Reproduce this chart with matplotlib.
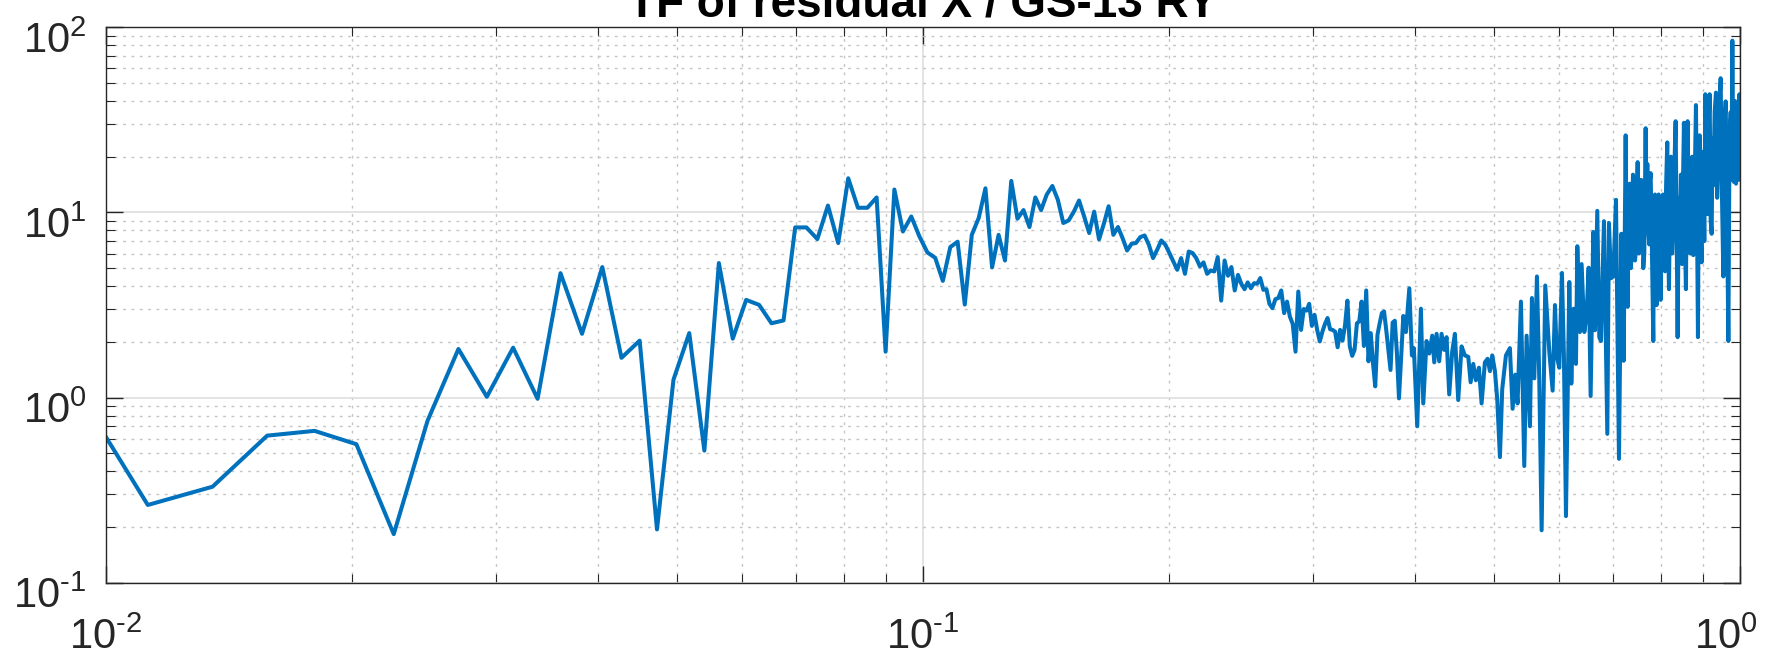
"""Transfer function of residual X over GS-13 RY, log-log magnitude plot."""

import matplotlib.pyplot as plt
import matplotlib.transforms as mtransforms
import numpy as np
from matplotlib.ticker import FuncFormatter

plt.rcParams["font.family"] = ["Liberation Sans", "DejaVu Sans"]
plt.rcParams["mathtext.fontset"] = "custom"
plt.rcParams["mathtext.rm"] = "Liberation Sans"
plt.rcParams["mathtext.it"] = "Liberation Sans:italic"
plt.rcParams["font.size"] = 30

TITLE = "TF of residual X / GS-13 RY"
LINE_COLOR = "#0072BD"

# frequency resolution of the low-frequency part (bins 4 .. 170)
DF = 0.00225
K_START = 4

# |TF| on the regular bins
low_mag = [
    1.30, 0.263, 0.330, 0.623, 0.661, 0.56, 0.183, 0.75, 1.83, 1.01,
    1.86, 0.985, 4.70, 2.21, 5.07, 1.64, 2.03, 0.194, 1.25, 2.23,
    0.517, 5.33, 2.08, 3.37, 3.17, 2.52, 2.61, 8.30, 8.30, 7.18,
    10.9, 6.83, 15.3, 10.6, 10.6, 12.05, 1.77, 13.3, 7.89, 9.51,
    7.42, 6.08, 5.69, 4.27, 6.50, 6.95, 3.18, 7.57, 9.33, 13.5,
    5.05, 7.57, 5.5, 14.8, 9.25, 10.3, 8.34, 12.05, 10.3, 12.5,
    13.9, 11.7, 8.77, 9.05, 10.1, 11.6, 9.51, 7.74, 10.1, 7.15,
    8.69, 10.8, 7.57, 8.34, 7.27, 6.23, 6.77, 6.84, 7.36, 7.51,
    6.69, 5.67, 6.29, 7.06, 6.69, 6.04, 5.43, 4.90, 5.67, 4.66,
    6.15, 6.04, 5.67, 5.11, 5.37, 4.66, 4.86, 4.80, 5.74, 3.34,
    5.50, 4.55, 5.07, 3.79, 4.60, 4.12, 3.85, 4.19, 3.90, 4.15,
    4.12, 4.42, 3.82, 3.85, 3.21, 3.04, 3.40, 3.45, 3.79, 2.86,
    3.30, 2.74, 2.50, 1.77, 3.74, 2.32, 3.01, 2.95, 3.21, 2.44,
    2.80, 2.32, 2.01, 2.27, 2.50, 2.69, 2.34, 2.32, 2.27, 1.87,
    2.32, 2.03, 2.44, 3.34, 1.89, 1.68, 1.81, 2.52, 2.58, 3.30,
    1.90, 3.79, 1.57, 2.23, 1.53, 1.15, 2.18, 2.52, 2.86, 2.92,
    2.32, 1.81, 1.41, 2.54, 2.60, 1.75, 0.99,
]

# upper band, 0.39 .. 1 Hz
high_freq = [
    0.3872, 0.3901, 0.3938, 0.3967, 0.3989, 0.4027, 0.4069, 0.4096, 0.4134, 0.4166,
    0.4201, 0.4225, 0.4253, 0.4284, 0.4313, 0.4345, 0.4374, 0.4407, 0.4444, 0.4478,
    0.4520, 0.4563, 0.4606, 0.4650, 0.4681, 0.4716, 0.4751, 0.4792, 0.4828, 0.4873,
    0.4910, 0.4943, 0.4975, 0.5013, 0.5046, 0.5084, 0.5117, 0.5171, 0.5229, 0.5269,
    0.5308, 0.5343, 0.5394, 0.5445, 0.5481, 0.5533, 0.5564, 0.5601, 0.5643, 0.5680,
    0.5718, 0.5777, 0.5843, 0.5898, 0.5937, 0.5970, 0.6010, 0.6055, 0.6089, 0.6124,
    0.6182, 0.6217, 0.6258, 0.6299, 0.6323, 0.6370, 0.6400, 0.6449, 0.6491, 0.6528,
    0.6565, 0.6614, 0.6645, 0.6689, 0.6727, 0.6759, 0.6816, 0.6881, 0.6913, 0.6952,
    0.6998, 0.7051, 0.7111, 0.7158, 0.7205,
    0.7246, 0.7266, 0.7287, 0.7307, 0.7328, 0.7352, 0.7376, 0.7397, 0.7418, 0.7439,
    0.7460, 0.7478, 0.7495, 0.7520, 0.7545, 0.7570, 0.7594, 0.7615, 0.7637, 0.7666,
    0.7684, 0.7702, 0.7723, 0.7745, 0.7760, 0.7775, 0.7804, 0.7833, 0.7851, 0.7870,
    0.7888, 0.7907, 0.7930, 0.7952, 0.7975, 0.7997, 0.8023, 0.8050, 0.8072, 0.8095,
    0.8121, 0.8148, 0.8167, 0.8187, 0.8210, 0.8233, 0.8260, 0.8287, 0.8314, 0.8342,
    0.8365, 0.8389, 0.8416, 0.8444, 0.8468, 0.8492, 0.8516, 0.8540, 0.8564, 0.8588,
    0.8608, 0.8629, 0.8649, 0.8669, 0.8690, 0.8710, 0.8739, 0.8768, 0.8801, 0.8834,
    0.8859, 0.8884, 0.8905, 0.8926, 0.8951, 0.8977, 0.8998, 0.9019, 0.9044, 0.9070,
    0.9100, 0.9130, 0.9156, 0.9182, 0.9208, 0.9234, 0.9255, 0.9277, 0.9312, 0.9347,
    0.9378, 0.9409, 0.9440, 0.9471, 0.9507, 0.9543, 0.9574, 0.9606, 0.9642, 0.9679,
    0.9710, 0.9742, 0.9765, 0.9788, 0.9811, 0.9834, 0.9862, 0.9890, 0.9918, 0.9946,
    0.9965, 0.9985, 1.0000,
]
high_mag = [
    2.76, 2.26, 3.89, 1.69, 1.85, 0.70, 3.02, 0.93, 2.02, 1.73,
    2.16, 1.55, 2.21, 1.57, 2.21, 1.81, 2.12, 1.04, 1.77, 2.21,
    0.97, 1.89, 1.69, 1.66, 1.21, 1.52, 1.24, 1.45, 0.93, 1.55,
    1.62, 1.39, 1.69, 1.39, 0.97, 0.477, 1.11, 1.69, 1.85, 0.87,
    1.33, 0.93, 3.30, 0.427, 2.16, 0.70, 3.45, 1.27, 4.51, 1.27,
    0.192, 4.03, 1.77, 1.09, 3.16, 1.66, 1.45, 4.71, 1.66, 0.229,
    4.21, 1.19, 3.02, 1.52, 6.57, 2.26, 5.26, 2.26, 2.82, 5.03,
    1.02, 7.85, 2.31, 10.2, 2.12, 2.02, 8.97, 0.637, 8.77, 4.41,
    4.51, 11.7, 0.467, 7.67, 1.58,
    26.1, 6.0, 3.09, 12.0, 14.3, 5.0, 6.29, 16.0, 14.0, 5.5,
    6.29, 12.0, 18.7, 6.0, 7.34, 15.0, 14.0, 5.0, 6.01, 28.5,
    9.0, 18.3, 8.0, 6.72, 15.0, 16.3, 6.0, 2.02, 10.0, 12.5,
    5.0, 3.16, 11.0, 12.5, 5.5, 3.37, 10.0, 12.5, 6.0, 4.81,
    14.0, 23.9, 7.0, 3.85, 12.0, 20.0, 6.0, 8.21, 18.0, 31.1,
    8.0, 2.12, 12.0, 7.51, 16.0, 5.26, 14.0, 30.5, 7.0, 3.85,
    15.0, 31.1, 9.0, 16.0, 6.0, 8.97, 20.0, 5.88, 14.0, 38.0,
    10.0, 2.12, 18.0, 26.1, 8.0, 5.38, 17.0, 21.3, 7.0, 43.5,
    12.0, 9.80, 30.0, 43.5, 9.0, 7.67, 25.0, 14.0, 35.0, 44.4,
    12.0, 18.3, 40.0, 53.1, 12.0, 4.51, 30.0, 39.8, 10.0, 2.02,
    25.0, 34.8, 15.0, 84.7, 20.0, 14.6, 40.0, 14.3, 30.0, 37.2,
    15.0, 43.5, 20.9,
]

freq = np.concatenate([DF * np.arange(K_START, K_START + len(low_mag)), high_freq])
mag = np.concatenate([low_mag, high_mag])

fig = plt.figure(figsize=(17.76, 6.58), dpi=100)
ax = fig.add_axes([0.0597, 0.1144, 0.9200, 0.8441])

ax.loglog(freq, mag, color=LINE_COLOR, lw=2.9, solid_joinstyle="round")
ax.set_xlim(1e-2, 1)
ax.set_ylim(1e-1, 1e2)


def pow10(v, pos):
    # plain hyphen in the exponent instead of a math minus
    return r"$10^{\text{%d}}$" % round(np.log10(v))


ax.set_xticks([1e-2, 1e-1, 1])
ax.set_yticks([1e-1, 1, 1e1, 1e2])
ax.xaxis.set_major_formatter(FuncFormatter(pow10))
ax.yaxis.set_major_formatter(FuncFormatter(pow10))

# MATLAB-ish box: inward ticks on all four sides, light grid
ax.grid(True, which="major", color="#dedede", lw=1.2, ls="-")
ax.grid(True, which="minor", color="#c4c4c4", lw=1.0, ls=(0, (2, 4)))
ax.set_axisbelow(True)
for s in ax.spines.values():
    s.set_color("#262626")
    s.set_linewidth(1.0)
ax.tick_params(which="both", direction="in", top=True, right=True, colors="#262626")
ax.tick_params(which="major", length=12, width=1.0)
ax.tick_params(which="minor", length=6.5, width=0.8)
ax.tick_params(axis="x", which="major", pad=25)
ax.tick_params(axis="y", which="major", pad=14)

# y labels sit a little below their tick, last x label pulled inward
down = mtransforms.ScaledTranslation(0, -7 / 72, fig.dpi_scale_trans)
for t in ax.yaxis.get_major_ticks():
    t.label1.set_transform(t.label1.get_transform() + down)
left = mtransforms.ScaledTranslation(-10 / 72, 0, fig.dpi_scale_trans)
last = ax.xaxis.get_major_ticks()[-1].label1
last.set_transform(last.get_transform() + left)

ax.set_title(TITLE, fontsize=33, fontweight="bold", pad=8)

fig.savefig("out.png", dpi=100)
